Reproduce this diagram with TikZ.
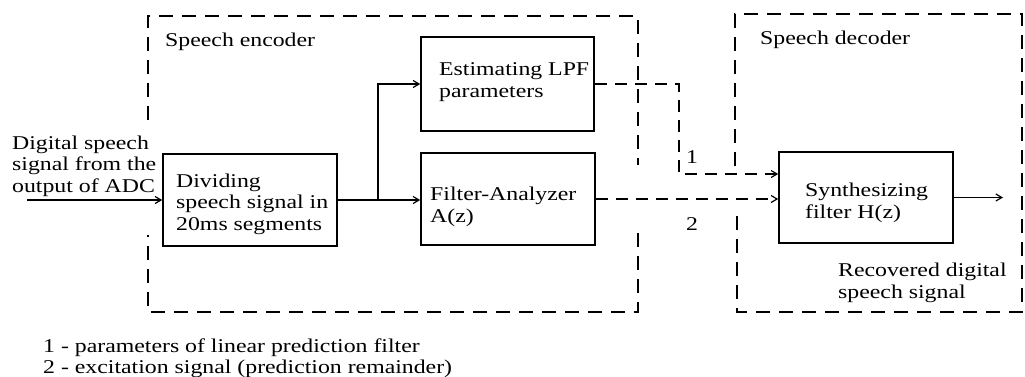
\documentclass[tikz,border=0pt]{standalone}
\usepackage{fontspec}
\setmainfont{Liberation Serif}[FakeStretch=1.22]
\usetikzlibrary{arrows.meta}
\begin{document}
\begin{tikzpicture}[x=1pt,y=-1pt,
  txt/.style={inner sep=0pt, anchor=base west, align=left, font=\fontsize{19.5}{21.5}\selectfont},
  blk/.style={draw, line width=1.5pt, inner sep=0pt},
  grp/.style={draw, line width=1.5pt, dash pattern=on 14pt off 9pt},
  sig/.style={line width=1.2pt, -{Straight Barb[length=6pt,width=7pt]}},
  dsig/.style={line width=1.2pt, dash pattern=on 12pt off 8pt, -{Straight Barb[length=6pt,width=7pt]}}]
\useasboundingbox (0,0) rectangle (1025,376);
% groups (with gaps where labels and signals cross)
\coordinate (eA) at (148,120);
\coordinate (eB) at (148,16);
\coordinate (eC) at (638,16);
\coordinate (eD) at (638,165);
\coordinate (eE) at (638,233);
\coordinate (eF) at (638,312);
\coordinate (eG) at (148,312);
\coordinate (eH) at (148,235);
\draw[grp] (eA) -- (eB) -- (eC) -- (eD);
\draw[grp] (eE) -- (eF) -- (eG) -- (eH);
\coordinate (dA) at (735,166);
\coordinate (dB) at (735,14);
\coordinate (dC) at (1022,14);
\coordinate (dD) at (1022,312);
\coordinate (dE) at (737,312);
\coordinate (dF) at (737,208);
\draw[grp] (dA) -- (dB) -- (dC) -- (dD) -- (dE) -- (dF);
\node[txt] (enc) at (165,46) {Speech encoder};
\node[txt] (dec) at (760,44) {Speech decoder};
% blocks
\node[blk, minimum width=174pt, minimum height=92pt] (div) at (250,200) {};
\node[blk, minimum width=173pt, minimum height=94pt] (lpf) at (507.5,84) {};
\node[blk, minimum width=174pt, minimum height=92pt] (fa) at (508,199) {};
\node[blk, minimum width=174pt, minimum height=91pt] (syn) at (866,197.5) {};
\node[txt] (tdiv) at (176,230) {Dividing\\speech signal in\\20ms segments};
\node[txt] (tlpf) at (439,97) {Estimating LPF\\parameters};
\node[txt] (tfa) at (430,222) {Filter-Analyzer\\A(z)};
\node[txt] (tsyn) at (805,218) {Synthesizing\\filter H(z)};
\node[txt] (tin) at (12,192) {Digital speech\\signal from the\\output of ADC};
\node[txt] (tout) at (838,298) {Recovered digital\\speech signal};
% connectors
\coordinate (src) at (27,200);
\coordinate (sink) at (1003,197.5);
\coordinate (br) at (378,200);
\coordinate (c1) at (679,84);
\coordinate (c2) at (679,174);
\draw[sig] (src) -- (src -| div.west);
\draw[line width=1.2pt] (div.east |- br) -- (br);
\draw[sig] (br) -- (br -| fa.west);
\draw[sig] (br) |- (lpf.west);
\draw[dsig] (lpf.east) -- (c1) -- (c2) -- (c2 -| syn.west);
\draw[dsig] (fa.east) -- (fa.east -| syn.west);
\draw[sig] (syn.east) -- (sink);
\node[txt] (l1) at (686,163) {1};
\node[txt] (l2) at (686,230) {2};
% legend
\node[txt] (leg1) at (43,352) {1 - parameters of linear prediction filter};
\node[txt] (leg2) at (43,373) {2 - excitation signal (prediction remainder)};
\end{tikzpicture}
\end{document}
